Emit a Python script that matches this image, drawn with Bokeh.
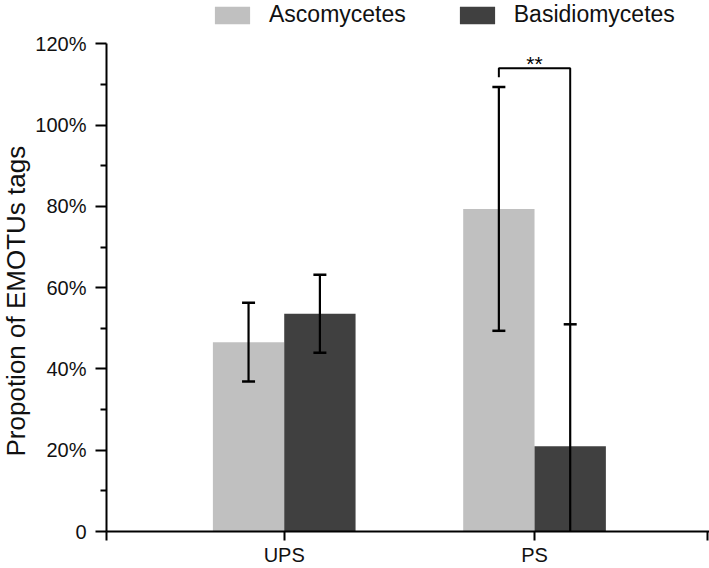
import numpy as np
from bokeh.plotting import figure
from bokeh.models import Range1d, FixedTicker, Legend, LegendItem, ColumnDataSource, Title
from bokeh.core.properties import value
from bokeh.embed import file_html
from bokeh.resources import INLINE

# ---- data (percent) ----
categories = ["UPS", "PS"]
asco = [46.6, 79.4]
asco_err = [9.7, 30.0]
basidio = [53.6, 21.0]
basidio_err = [9.6, 30.0]
y_ticks = [0, 20, 40, 60, 80, 100, 120]
y_tick_labels = ["0", "20%", "40%", "60%", "80%", "100%", "120%"]
sig_text = "**"
sig_y = [111.8, 114.0, 114.0, 51.0]   # bracket: left leg bottom, top, top, right leg bottom

FONT = "Liberation Sans"
LIGHT = "#c0c0c0"
DARK = "#404040"
BAR_W = 0.285
OFF = BAR_W / 2
Y_TOP = 130.7   # headroom above the axis for the legend

xs = np.arange(len(categories), dtype=float)

p = figure(width=709, height=568, output_backend="svg", toolbar_location=None,
           x_range=Range1d(-0.71, 1.699), y_range=Range1d(0, Y_TOP),
           min_border_left=105, min_border_right=0, min_border_top=0, min_border_bottom=35)
p.outline_line_color = None
p.xgrid.visible = False
p.ygrid.visible = False
p.background_fill_color = "white"
p.border_fill_color = "white"

src = ColumnDataSource(dict(
    xa=xs - OFF, xb=xs + OFF,
    asco=asco, basidio=basidio,
    a_lo=[v - e for v, e in zip(asco, asco_err)], a_hi=[v + e for v, e in zip(asco, asco_err)],
    b_lo=[v - e for v, e in zip(basidio, basidio_err)], b_hi=[v + e for v, e in zip(basidio, basidio_err)],
))

ra = p.vbar(x="xa", top="asco", width=BAR_W, source=src, fill_color=LIGHT, line_color=None)
rb = p.vbar(x="xb", top="basidio", width=BAR_W, source=src, fill_color=DARK, line_color=None)

# error bars
for xc, lo, hi in (("xa", "a_lo", "a_hi"), ("xb", "b_lo", "b_hi")):
    p.segment(x0=xc, x1=xc, y0=lo, y1=hi, source=src, line_color="black", line_width=2.2)
    p.scatter(x=xc, y=hi, source=src, marker="dash", size=13, line_color="black", line_width=2.5)
    p.scatter(x=xc, y=lo, source=src, marker="dash", size=13, line_color="black", line_width=2.5)

# significance bracket on PS
i = categories.index("PS")
bx = [xs[i] - OFF, xs[i] - OFF, xs[i] + OFF, xs[i] + OFF]
p.line(x=bx, y=sig_y, line_color="black", line_width=2)
p.text(x=[xs[i]], y=[sig_y[1]], text=[sig_text], text_align="center", text_baseline="bottom",
       y_offset=7, text_font=value(FONT), text_font_size="21px", text_color="black")

# axes
for ax in (p.xaxis[0], p.yaxis[0]):
    ax.axis_line_width = 2
    ax.axis_line_color = "black"
    ax.major_tick_line_width = 2
    ax.major_tick_line_color = "black"
    ax.minor_tick_line_width = 2
    ax.minor_tick_line_color = "black"
    ax.major_tick_in = 0
    ax.minor_tick_in = 0
    ax.major_label_text_font = FONT
    ax.major_label_text_font_size = "20px"
    ax.major_label_text_color = "#111111"

yax = p.yaxis[0]
yax.bounds = (y_ticks[0], y_ticks[-1])
yax.ticker = FixedTicker(ticks=y_ticks, minor_ticks=[t + 10 for t in y_ticks[:-1]])
yax.major_label_overrides = {t: l for t, l in zip(y_ticks, y_tick_labels)}
yax.major_tick_out = 11
yax.minor_tick_out = 6
yax.major_label_standoff = 9

ylab = Title(text="Propotion of EMOTUs tags", align="left", offset=75, standoff=0,
             vertical_align="top",
             text_font=FONT, text_font_size="26px", text_font_style="normal", text_color="#111111")
p.add_layout(ylab, "left")

xax = p.xaxis[0]
x_ticks = [-0.71] + list(xs) + [1.693]
xax.ticker = FixedTicker(ticks=x_ticks, minor_ticks=[])
overrides = {-0.71: "", 1.693: ""}
for xv, c in zip(xs, categories):
    overrides[float(xv)] = c
xax.major_label_overrides = overrides
xax.major_tick_out = 9
xax.minor_tick_out = 0
xax.major_label_standoff = 3

legend = Legend(items=[LegendItem(label="Ascomycetes", renderers=[ra]),
                       LegendItem(label="Basidiomycetes", renderers=[rb])],
                orientation="horizontal", location=(104, 503),
                glyph_width=44, glyph_height=22, label_height=24,
                label_text_font=FONT, label_text_font_size="23px", label_text_color="#111111",
                label_standoff=15, spacing=49, padding=0, margin=0,
                border_line_color=None, background_fill_alpha=0)
p.add_layout(legend)

open("out.html", "w").write(file_html(p, INLINE))
